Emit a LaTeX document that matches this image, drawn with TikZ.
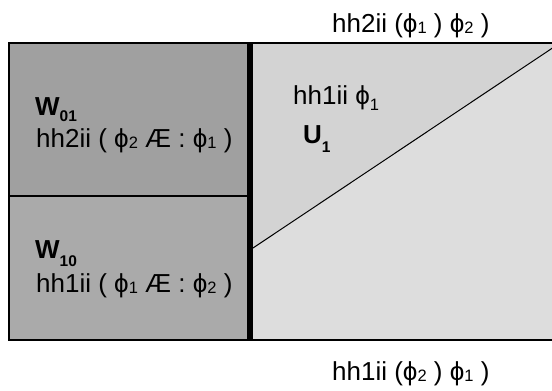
\documentclass[tikz,border=0pt]{standalone}
\usepackage{fontspec}
\setmainfont{Liberation Sans}
\definecolor{cA}{RGB}{160,160,160}
\definecolor{cB}{RGB}{170,170,170}
\definecolor{cC}{RGB}{211,211,211}
\definecolor{cD}{RGB}{221,221,221}
\newcommand\ph{ϕ}
\newcommand\sbs[2][1.5pt]{\raisebox{-#1}{\fontsize{16.5}{16.5}\selectfont #2}}
\newcommand\sbb[2][6pt]{\raisebox{-#1}{\fontsize{15.5}{15.5}\selectfont #2}}
\begin{document}
\begin{tikzpicture}[x=1pt,y=-1pt,
  lbl/.style={anchor=base west, inner sep=0pt, font=\fontsize{26}{31}\selectfont},
  blbl/.style={lbl, font=\fontsize{26}{31}\selectfont\bfseries}]
\useasboundingbox (0,0) rectangle (552,391);
\fill[white] (0,0) rectangle (552,391);
\begin{scope}
\clip (0,0) rectangle (552,391);
\fill[cA] (9,43) rectangle (250,196);
\fill[cB] (9,196) rectangle (250,340);
\fill[cD] (250,43) rectangle (560,340);
\fill[cC] (250,43) -- (560,43) -- (253,248) -- (250,248) -- cycle;
\draw[line width=1pt] (253,248) -- (560,43);
\draw[line width=1.5pt] (9,196) -- (250,196);
\draw[line width=1.5pt] (9,43) rectangle (560,340);
\draw[line width=5.5pt] (250,43) -- (250,340);
\end{scope}
\node[blbl] (w01) at (35,115) {W\sbb{01}};
\node[lbl] (t01) at (36,147) {hh2ii ( \ph\sbs{2} Æ : \ph\sbs{1} )};
\node[blbl] (w10) at (35,258) {W\sbb[8pt]{10}};
\node[lbl] (t10) at (36,292) {hh1ii ( \ph\sbs{1} Æ : \ph\sbs{2} )};
\node[lbl] (h1) at (293,104) {hh1ii \ph\sbs[6pt]{1}};
\node[blbl] (u1) at (303,143) {U\sbb[9pt]{1}};
\node[lbl] (top) at (332,32) {hh2ii (\ph\sbs{1} ) \ph\sbs{2} )};
\node[lbl] (bot) at (332,380) {hh1ii (\ph\sbs{2} ) \ph\sbs{1} )};
\end{tikzpicture}
\end{document}
